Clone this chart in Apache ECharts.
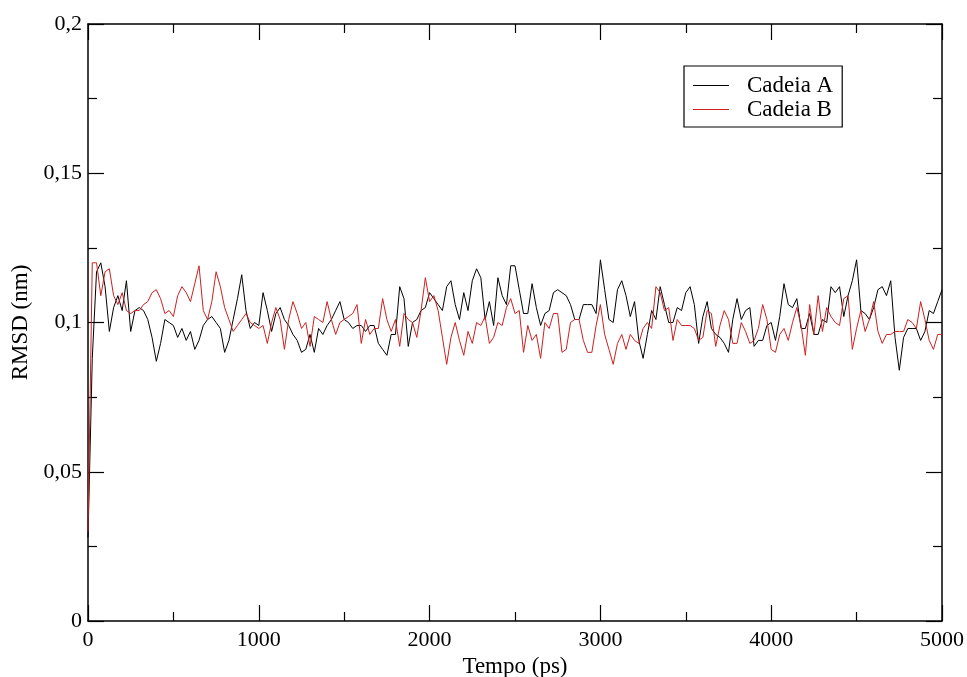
<!doctype html>
<html>
    <head>
        <meta charset="utf-8">
        <title>RMSD Cadeia A / Cadeia B</title>
        <style>
            html, body { margin: 0; padding: 0; background: #fff; }
            #main { width: 967px; height: 677px; }
        </style>
    </head>
    <body>
        <div id="main"></div>
        <script src="https://cdn.jsdelivr.net/npm/echarts@6/dist/echarts.min.js"></script>
        <script>
            // time step between samples (ps)
            var step = 25;

            var xTicks = [0, 1000, 2000, 3000, 4000, 5000];
            var yTicks = [0, 0.05, 0.1, 0.15, 0.2];

            var cadeiaA = [
                0.028,0.088,0.117,0.120,0.112,0.097,0.105,0.109,0.104,0.114,0.097,0.104,0.105,0.104,0.101,0.095,0.087,0.093,0.101,0.100,
                0.099,0.095,0.098,0.094,0.097,0.091,0.094,0.099,0.101,0.102,0.100,0.098,0.090,0.094,0.101,0.108,0.116,0.104,0.098,0.100,
                0.099,0.110,0.104,0.097,0.103,0.105,0.101,0.099,0.096,0.094,
                0.090,0.091,0.096,0.090,0.098,0.096,0.099,0.101,0.104,0.107,0.101,0.100,0.098,0.099,0.099,0.097,0.099,0.099,0.093,0.091,
                0.089,0.096,0.096,0.112,0.108,0.092,0.100,0.101,0.104,0.105,0.110,0.108,0.106,0.104,0.112,0.114,0.106,0.101,0.110,0.104,
                0.114,0.118,0.115,0.101,0.107,0.099,0.115,0.109,
                0.106,0.119,0.119,0.111,0.103,0.103,0.113,0.105,0.099,0.103,0.104,0.110,0.111,0.110,0.109,0.106,0.101,0.101,0.106,0.106,
                0.106,0.103,0.121,0.111,0.101,0.100,0.111,0.114,0.109,0.102,0.107,0.094,0.088,0.096,0.104,0.101,0.112,0.106,0.100,0.100,
                0.105,0.104,0.110,0.112,0.106,0.093,0.102,0.107,
                0.098,0.096,0.095,0.093,0.090,0.101,0.108,0.101,0.104,0.105,0.092,0.094,0.094,0.099,0.100,0.094,0.102,0.113,0.106,0.105,
                0.108,0.098,0.098,0.103,0.096,0.096,0.101,0.100,0.112,0.110,0.112,0.102,0.109,0.114,0.121,0.104,0.103,0.101,0.105,0.111,
                0.112,0.109,0.114,0.095,0.084,0.095,0.098,0.098,0.098,0.094,0.097,0.104,0.103,0.107,0.111
            ];

            var cadeiaB = [
                0.030,0.120,0.120,0.109,0.117,0.118,0.109,0.106,0.110,0.104,0.103,0.104,0.104,0.106,0.107,0.110,0.111,0.108,0.103,0.104,
                0.102,0.109,0.112,0.110,0.107,0.113,0.119,0.104,0.101,0.107,0.117,0.112,0.105,0.101,0.097,0.099,0.101,0.103,0.100,0.099,
                0.098,0.099,0.093,0.100,0.105,0.101,0.091,0.101,0.107,0.103,
                0.098,0.100,0.092,0.102,0.101,0.100,0.107,0.101,0.096,0.100,0.101,0.102,0.103,0.106,0.093,0.101,0.096,0.098,0.098,0.108,
                0.101,0.097,0.101,0.092,0.103,0.101,0.100,0.095,0.104,0.115,0.107,0.109,0.104,0.095,0.086,0.095,0.100,0.094,0.089,0.097,
                0.093,0.100,0.099,0.102,0.093,0.095,0.100,0.099,
                0.105,0.108,0.103,0.104,0.090,0.099,0.094,0.096,0.088,0.100,0.098,0.103,0.103,0.090,0.091,0.100,0.101,0.101,0.094,0.090,
                0.090,0.099,0.106,0.096,0.091,0.086,0.093,0.096,0.091,0.096,0.094,0.093,0.098,0.100,0.098,0.112,0.110,0.104,0.105,0.094,
                0.101,0.099,0.099,0.099,0.098,0.094,0.095,0.104,
                0.103,0.092,0.099,0.104,0.101,0.093,0.093,0.100,0.097,0.093,0.094,0.098,0.106,0.101,0.091,0.090,0.096,0.098,0.094,0.100,
                0.105,0.099,0.089,0.106,0.096,0.109,0.097,0.105,0.102,0.100,0.099,0.108,0.109,0.091,0.098,0.104,0.097,0.101,0.107,0.097,
                0.093,0.096,0.096,0.097,0.097,0.097,0.101,0.100,0.098,0.107,0.101,0.094,0.091,0.096,0.096
            ];

            function pairs(values) {
                return values.map(function (v, i) { return [i * step, v]; });
            }

            var serif = '"Liberation Serif", "DejaVu Serif", serif';
            var lineStyle = { color: '#000', width: 1.5 };
            var tickStyle = { color: '#000', width: 1.2 };

            function xAxis(pos, labels) {
                return {
                    type: 'value', position: pos,
                    min: xTicks[0], max: xTicks[xTicks.length - 1],
                    interval: xTicks[1] - xTicks[0],
                    axisLine: { show: true, onZero: false, lineStyle: lineStyle },
                    axisTick: { show: true, inside: true, length: 16, lineStyle: tickStyle },
                    minorTick: { show: true, splitNumber: 2, length: 9, lineStyle: tickStyle },
                    splitLine: { show: false },
                    axisLabel: {
                        show: labels, color: '#000', fontFamily: serif, fontSize: 22, margin: 8,
                        formatter: function (v) { return String(v); }
                    },
                    name: labels ? 'Tempo (ps)' : '',
                    nameLocation: 'middle', nameGap: 34,
                    nameTextStyle: { color: '#000', fontFamily: serif, fontSize: 23 }
                };
            }

            function yAxis(pos, labels) {
                return {
                    type: 'value', position: pos,
                    min: yTicks[0], max: yTicks[yTicks.length - 1],
                    interval: yTicks[1] - yTicks[0],
                    axisLine: { show: true, onZero: false, lineStyle: lineStyle },
                    axisTick: { show: true, inside: true, length: 16, lineStyle: tickStyle },
                    minorTick: { show: true, splitNumber: 2, length: 9, lineStyle: tickStyle },
                    splitLine: { show: false },
                    axisLabel: {
                        show: labels, color: '#000', fontFamily: serif, fontSize: 22, margin: 6,
                        formatter: function (v) { return String(+v.toFixed(3)).replace('.', ','); }
                    },
                    name: labels ? 'RMSD (nm)' : '',
                    nameLocation: 'middle', nameGap: 54, nameRotate: 90,
                    nameTextStyle: { color: '#000', fontFamily: serif, fontSize: 23 }
                };
            }

            var chart = echarts.init(document.getElementById('main'));

            chart.setOption({
                animation: false,
                backgroundColor: '#fff',
                grid: { left: 88, right: 25, top: 24, bottom: 56, containLabel: false, outerBoundsMode: 'none' },
                legend: {
                    orient: 'vertical',
                    left: 684, top: 66,
                    padding: [8, 9, 6, 9],
                    itemGap: 1,
                    itemWidth: 36, itemHeight: 1,
                    icon: 'rect',
                    borderColor: '#000', borderWidth: 1.2,
                    textStyle: { color: '#000', fontFamily: serif, fontSize: 23, lineHeight: 22, padding: [0, 0, 0, 13] },
                    data: ['Cadeia A', 'Cadeia B']
                },
                xAxis: [xAxis('bottom', true), xAxis('top', false)],
                yAxis: [yAxis('left', true), yAxis('right', false)],
                series: [
                    {
                        name: 'Cadeia A', type: 'line', showSymbol: false, symbol: 'none',
                        data: pairs(cadeiaA),
                        itemStyle: { color: '#000' },
                        lineStyle: { color: '#000', width: 1 }
                    },
                    {
                        name: 'Cadeia B', type: 'line', showSymbol: false, symbol: 'none',
                        data: pairs(cadeiaB),
                        itemStyle: { color: '#cc2020' },
                        lineStyle: { color: '#cc2020', width: 1 }
                    }
                ]
            });

            window.addEventListener('resize', function () {
                chart.resize();
            });
        </script>
    </body>
</html>
